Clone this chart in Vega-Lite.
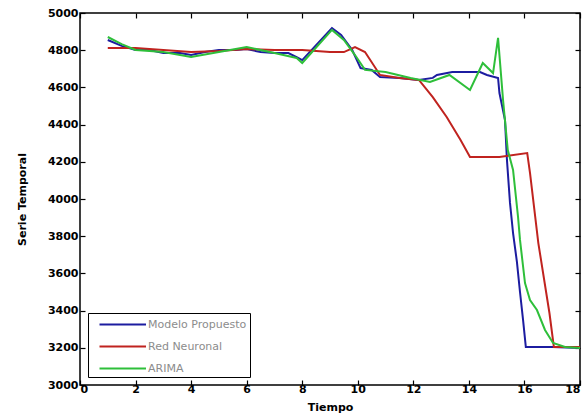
{
  "$schema": "https://vega.github.io/schema/vega-lite/v6.json",
  "width": 500,
  "height": 372,
  "autosize": {"type": "none"},
  "padding": {"left": 80, "top": 13, "right": 4, "bottom": 31},
  "background": "white",
  "config": {
    "font": "DejaVu Sans",
    "view": {"stroke": "black", "strokeWidth": 1.5},
    "axis": {
      "domain": false,
      "grid": false,
      "tickColor": "black",
      "tickSize": -5,
      "tickWidth": 1.2,
      "labelFont": "DejaVu Sans",
      "labelFontWeight": "bold",
      "labelFontSize": 11,
      "labelColor": "black",
      "titleFont": "DejaVu Sans",
      "titleFontWeight": "bold",
      "titleFontSize": 11,
      "titleColor": "black"
    }
  },
  "data": {
    "values": [
      {"x": 1.0, "y": 4855, "s": "Modelo Propuesto"},
      {"x": 1.5, "y": 4823, "s": "Modelo Propuesto"},
      {"x": 2.0, "y": 4801, "s": "Modelo Propuesto"},
      {"x": 2.5, "y": 4801, "s": "Modelo Propuesto"},
      {"x": 3.0, "y": 4785, "s": "Modelo Propuesto"},
      {"x": 3.6, "y": 4785, "s": "Modelo Propuesto"},
      {"x": 4.0, "y": 4774, "s": "Modelo Propuesto"},
      {"x": 4.5, "y": 4790, "s": "Modelo Propuesto"},
      {"x": 5.0, "y": 4801, "s": "Modelo Propuesto"},
      {"x": 5.6, "y": 4801, "s": "Modelo Propuesto"},
      {"x": 6.0, "y": 4806, "s": "Modelo Propuesto"},
      {"x": 6.5, "y": 4790, "s": "Modelo Propuesto"},
      {"x": 7.0, "y": 4785, "s": "Modelo Propuesto"},
      {"x": 7.5, "y": 4785, "s": "Modelo Propuesto"},
      {"x": 7.8, "y": 4763, "s": "Modelo Propuesto"},
      {"x": 8.0, "y": 4747, "s": "Modelo Propuesto"},
      {"x": 9.07, "y": 4919, "s": "Modelo Propuesto"},
      {"x": 9.4, "y": 4882, "s": "Modelo Propuesto"},
      {"x": 9.8, "y": 4801, "s": "Modelo Propuesto"},
      {"x": 10.1, "y": 4704, "s": "Modelo Propuesto"},
      {"x": 10.5, "y": 4694, "s": "Modelo Propuesto"},
      {"x": 10.8, "y": 4656, "s": "Modelo Propuesto"},
      {"x": 11.5, "y": 4651, "s": "Modelo Propuesto"},
      {"x": 12.2, "y": 4640, "s": "Modelo Propuesto"},
      {"x": 12.7, "y": 4651, "s": "Modelo Propuesto"},
      {"x": 12.85, "y": 4667, "s": "Modelo Propuesto"},
      {"x": 13.4, "y": 4683, "s": "Modelo Propuesto"},
      {"x": 14.4, "y": 4683, "s": "Modelo Propuesto"},
      {"x": 14.65, "y": 4667, "s": "Modelo Propuesto"},
      {"x": 15.05, "y": 4651, "s": "Modelo Propuesto"},
      {"x": 15.1, "y": 4570, "s": "Modelo Propuesto"},
      {"x": 15.3, "y": 4425, "s": "Modelo Propuesto"},
      {"x": 15.37, "y": 4210, "s": "Modelo Propuesto"},
      {"x": 15.48, "y": 3979, "s": "Modelo Propuesto"},
      {"x": 15.59, "y": 3817, "s": "Modelo Propuesto"},
      {"x": 15.73, "y": 3661, "s": "Modelo Propuesto"},
      {"x": 15.84, "y": 3500, "s": "Modelo Propuesto"},
      {"x": 15.95, "y": 3350, "s": "Modelo Propuesto"},
      {"x": 16.05, "y": 3204, "s": "Modelo Propuesto"},
      {"x": 17.0, "y": 3204, "s": "Modelo Propuesto"},
      {"x": 18.0, "y": 3199, "s": "Modelo Propuesto"},

      {"x": 1.0, "y": 4812, "s": "Red Neuronal"},
      {"x": 2.0, "y": 4812, "s": "Red Neuronal"},
      {"x": 3.0, "y": 4801, "s": "Red Neuronal"},
      {"x": 4.0, "y": 4790, "s": "Red Neuronal"},
      {"x": 5.0, "y": 4796, "s": "Red Neuronal"},
      {"x": 6.0, "y": 4806, "s": "Red Neuronal"},
      {"x": 7.0, "y": 4801, "s": "Red Neuronal"},
      {"x": 8.0, "y": 4801, "s": "Red Neuronal"},
      {"x": 9.0, "y": 4790, "s": "Red Neuronal"},
      {"x": 9.5, "y": 4790, "s": "Red Neuronal"},
      {"x": 9.9, "y": 4817, "s": "Red Neuronal"},
      {"x": 10.26, "y": 4790, "s": "Red Neuronal"},
      {"x": 10.8, "y": 4667, "s": "Red Neuronal"},
      {"x": 11.5, "y": 4651, "s": "Red Neuronal"},
      {"x": 12.2, "y": 4640, "s": "Red Neuronal"},
      {"x": 12.7, "y": 4548, "s": "Red Neuronal"},
      {"x": 13.2, "y": 4441, "s": "Red Neuronal"},
      {"x": 13.7, "y": 4317, "s": "Red Neuronal"},
      {"x": 14.04, "y": 4226, "s": "Red Neuronal"},
      {"x": 14.4, "y": 4226, "s": "Red Neuronal"},
      {"x": 15.1, "y": 4226, "s": "Red Neuronal"},
      {"x": 16.1, "y": 4247, "s": "Red Neuronal"},
      {"x": 16.2, "y": 4140, "s": "Red Neuronal"},
      {"x": 16.5, "y": 3763, "s": "Red Neuronal"},
      {"x": 16.9, "y": 3387, "s": "Red Neuronal"},
      {"x": 17.06, "y": 3204, "s": "Red Neuronal"},
      {"x": 18.0, "y": 3204, "s": "Red Neuronal"},

      {"x": 1.0, "y": 4871, "s": "ARIMA"},
      {"x": 1.5, "y": 4833, "s": "ARIMA"},
      {"x": 2.0, "y": 4801, "s": "ARIMA"},
      {"x": 3.0, "y": 4790, "s": "ARIMA"},
      {"x": 4.0, "y": 4763, "s": "ARIMA"},
      {"x": 5.0, "y": 4790, "s": "ARIMA"},
      {"x": 6.0, "y": 4817, "s": "ARIMA"},
      {"x": 7.0, "y": 4785, "s": "ARIMA"},
      {"x": 7.8, "y": 4758, "s": "ARIMA"},
      {"x": 8.0, "y": 4731, "s": "ARIMA"},
      {"x": 9.07, "y": 4909, "s": "ARIMA"},
      {"x": 9.5, "y": 4855, "s": "ARIMA"},
      {"x": 9.9, "y": 4774, "s": "ARIMA"},
      {"x": 10.26, "y": 4694, "s": "ARIMA"},
      {"x": 11.0, "y": 4683, "s": "ARIMA"},
      {"x": 11.9, "y": 4651, "s": "ARIMA"},
      {"x": 12.6, "y": 4629, "s": "ARIMA"},
      {"x": 13.3, "y": 4667, "s": "ARIMA"},
      {"x": 14.04, "y": 4586, "s": "ARIMA"},
      {"x": 14.5, "y": 4731, "s": "ARIMA"},
      {"x": 14.87, "y": 4677, "s": "ARIMA"},
      {"x": 15.05, "y": 4866, "s": "ARIMA"},
      {"x": 15.23, "y": 4532, "s": "ARIMA"},
      {"x": 15.4, "y": 4263, "s": "ARIMA"},
      {"x": 15.59, "y": 4156, "s": "ARIMA"},
      {"x": 15.77, "y": 3903, "s": "ARIMA"},
      {"x": 15.84, "y": 3780, "s": "ARIMA"},
      {"x": 16.02, "y": 3548, "s": "ARIMA"},
      {"x": 16.2, "y": 3457, "s": "ARIMA"},
      {"x": 16.45, "y": 3403, "s": "ARIMA"},
      {"x": 16.74, "y": 3296, "s": "ARIMA"},
      {"x": 17.03, "y": 3226, "s": "ARIMA"},
      {"x": 17.46, "y": 3204, "s": "ARIMA"},
      {"x": 18.0, "y": 3199, "s": "ARIMA"}
    ]
  },
  "layer": [
    {
      "mark": {"type": "line", "strokeWidth": 2},
      "encoding": {
        "x": {
          "field": "x", "type": "quantitative",
          "scale": {"domain": [0, 18], "nice": false},
          "axis": {"orient": "bottom", "values": [0, 2, 4, 6, 8, 10, 12, 14, 16, 18], "format": "d", "title": "Tiempo", "labelPadding": 3, "titlePadding": 7}
        },
        "y": {
          "field": "y", "type": "quantitative",
          "scale": {"domain": [3000, 5000], "nice": false, "zero": false},
          "axis": {"orient": "left", "values": [3000, 3200, 3400, 3600, 3800, 4000, 4200, 4400, 4600, 4800, 5000], "format": "d", "title": "Serie Temporal", "labelPadding": 7, "titlePadding": 20}
        },
        "color": {
          "field": "s", "type": "nominal",
          "scale": {"domain": ["Modelo Propuesto", "Red Neuronal", "ARIMA"], "range": ["#1c1ca0", "#c0231f", "#2ebf3a"]},
          "legend": {
            "orient": "none", "legendX": 8, "legendY": 300, "title": null,
            "strokeColor": "black", "fillColor": "white", "padding": 3,
            "symbolType": "M0,0H6.2", "symbolStrokeWidth": 2, "symbolSize": 225,
            "labelFontSize": 11, "labelColor": "#8c8c8c", "labelFont": "DejaVu Sans",
            "rowPadding": 8, "labelOffset": 40
          }
        }
      }
    },
    {
      "mark": {"type": "line", "opacity": 0},
      "encoding": {
        "x": {
          "field": "x", "type": "quantitative",
          "scale": {"domain": [0, 18], "nice": false},
          "axis": {"orient": "top", "values": [0, 2, 4, 6, 8, 10, 12, 14, 16, 18], "labels": false, "title": null}
        },
        "y": {
          "field": "y", "type": "quantitative",
          "scale": {"domain": [3000, 5000], "nice": false, "zero": false},
          "axis": {"orient": "right", "values": [3000, 3200, 3400, 3600, 3800, 4000, 4200, 4400, 4600, 4800, 5000], "labels": false, "title": null}
        },
        "detail": {"field": "s", "type": "nominal"}
      }
    }
  ],
  "resolve": {"axis": {"x": "independent", "y": "independent"}}
}
